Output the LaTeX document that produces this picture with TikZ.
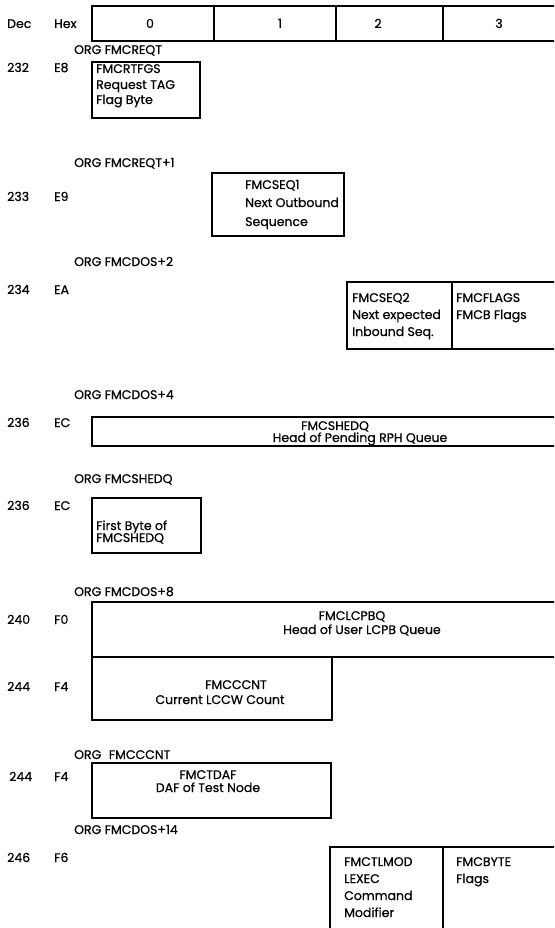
\documentclass[tikz,border=0pt]{standalone}
\usepackage{fontspec}
\setmainfont{Poppins}[FakeBold=0.6]
\begin{document}
\begin{tikzpicture}[x=1pt,y=-1pt,
  lbl/.style={anchor=base west, inner sep=0pt, font=\fontsize{12.5}{14}\selectfont},
  ctr/.style={anchor=base, inner sep=0pt, font=\fontsize{12.5}{14}\selectfont},
  frame/.style={line width=1.5pt, line cap=rect}]
\useasboundingbox (0,0) rectangle (554,928);
\clip (0,0) rectangle (554,928);

% header
\draw[frame] (570,6) -- (92,6) -- (92,41) -- (570,41);
\draw[frame] (214,6) -- (214,41) (336,6) -- (336,41) (443,6) -- (443,41);
\node[lbl] (hdec) at (7,28) {Dec};
\node[lbl] (hhex) at (54,28) {Hex};
\node[ctr] (h0) at (150,28) {0};
\node[ctr] (h1) at (280,28) {1};
\node[ctr] (h2) at (378,28) {2};
\node[ctr] (h3) at (499,28) {3};

% ORG labels
\node[lbl] (o1) at (74,54) {ORG FMCREQT};
\node[lbl] (o2) at (74,167) {ORG FMCREQT+1};
\node[lbl] (o3) at (74,266) {ORG FMCDOS+2};
\node[lbl] (o4) at (74,399) {ORG FMCDOS+4};
\node[lbl] (o5) at (74,483) {ORG FMCSHEDQ};
\node[lbl] (o6) at (74,596) {ORG FMCDOS+8};
\node[lbl] (o7) at (74,759) {ORG\hspace{0.6em}FMCCCNT};
\node[lbl] (o8) at (74,834) {ORG FMCDOS+14};

% row labels
\node[lbl] (d1) at (7,72) {232};  \node[lbl] (x1) at (54,72) {E8};
\node[lbl] (d2) at (7,201) {233}; \node[lbl] (x2) at (54,201) {E9};
\node[lbl] (d3) at (7,294) {234}; \node[lbl] (x3) at (54,294) {EA};
\node[lbl] (d4) at (7,427) {236}; \node[lbl] (x4) at (54,427) {EC};
\node[lbl] (d5) at (7,510) {236}; \node[lbl] (x5) at (54,510) {EC};
\node[lbl] (d6) at (7,624) {240}; \node[lbl] (x6) at (54,624) {F0};
\node[lbl] (d7) at (7,691) {244}; \node[lbl] (x7) at (54,691) {F4};
\node[lbl] (d8) at (9,781) {244}; \node[lbl] (x8) at (54,781) {F4};
\node[lbl] (d9) at (7,862) {246}; \node[lbl] (x9) at (54,862) {F6};

% box 1
\draw[frame] (92,62) rectangle (200,118);
\node[lbl] (b1a) at (96,73) {FMCRTFGS};
\node[lbl] (b1b) at (96,89) {Request TAG};
\node[lbl] (b1c) at (96,104) {Flag Byte};

% box 2
\draw[frame] (212,173) rectangle (344,236);
\node[lbl] (b2a) at (245,189) {FMCSEQ1};
\node[lbl] (b2b) at (245,207) {Next Outbound};
\node[lbl] (b2c) at (245,226) {Sequence};

% box 3
\draw[frame] (570,282) -- (347,282) -- (347,349) -- (570,349);
\draw[frame] (452,282) -- (452,349);
\node[lbl] (b3a) at (352,302) {FMCSEQ2};
\node[lbl] (b3b) at (352,319) {Next expected};
\node[lbl] (b3c) at (352,336) {Inbound Seq.};
\node[lbl] (b3d) at (456,302) {FMCFLAGS};
\node[lbl] (b3e) at (456,319) {FMCB Flags};

% box 4
\draw[frame] (570,417) -- (92,417) -- (92,446) -- (570,446);
\node[ctr] (b4a) at (335,430) {FMCSHEDQ};
\node[ctr] (b4b) at (360,442) {Head of Pending RPH Queue};

% box 5
\draw[frame] (92,498) rectangle (201,553);
\node[lbl] (b5a) at (96,530) {First Byte of};
\node[lbl] (b5b) at (96,542) {FMCSHEDQ};

% box 6 / 7
\draw[frame] (570,602) -- (92,602) -- (92,720) -- (332,720) -- (332,657);
\draw[frame] (92,657) -- (570,657);
\node[ctr] (b6a) at (352,620) {FMCLCPBQ};
\node[ctr] (b6b) at (362,634) {Head of User LCPB Queue};
\node[ctr] (b7a) at (236,689) {FMCCCNT};
\node[ctr] (b7b) at (220,704) {Current LCCW Count};

% box 8
\draw[frame] (92,763) rectangle (331,818);
\node[ctr] (b8a) at (208,779) {FMCTDAF};
\node[ctr] (b8b) at (208,792) {DAF of Test Node};

% box 9
\draw[frame] (570,847) -- (330,847) -- (330,940);
\draw[frame] (443,847) -- (443,940);
\node[lbl] (b9a) at (344,866) {FMCTLMOD};
\node[lbl] (b9b) at (344,883) {LEXEC};
\node[lbl] (b9c) at (344,900) {Command};
\node[lbl] (b9d) at (344,917) {Modifier};
\node[lbl] (b9e) at (456,866) {FMCBYTE};
\node[lbl] (b9f) at (456,883) {Flags};
\end{tikzpicture}
\end{document}
